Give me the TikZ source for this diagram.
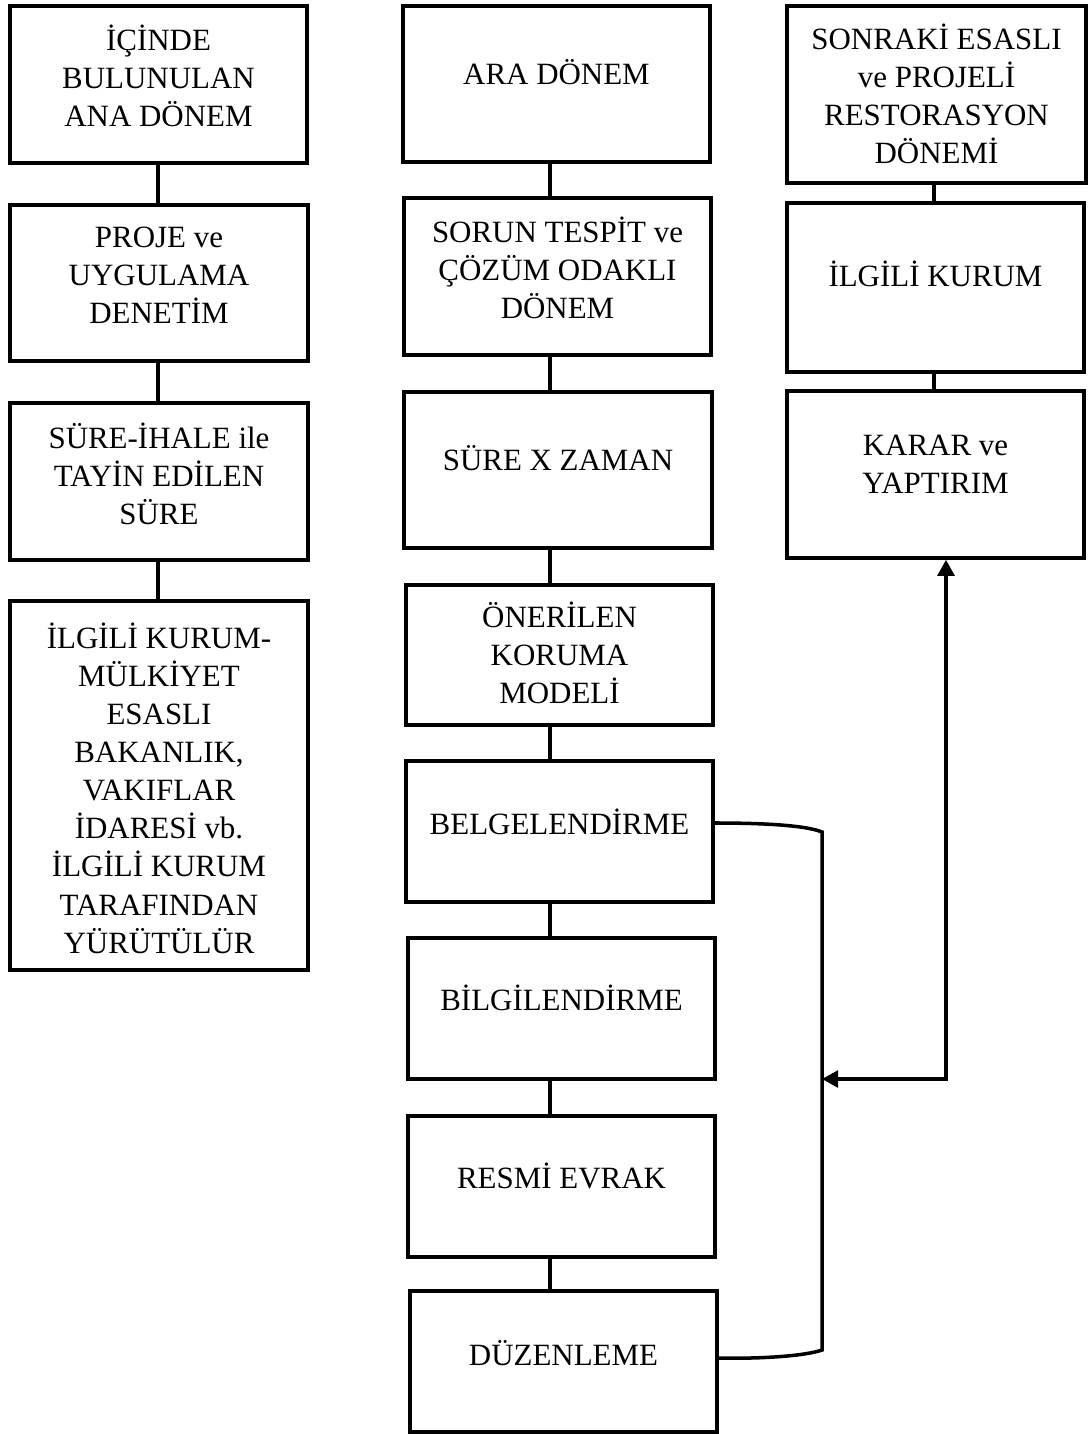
\documentclass[tikz,border=0pt]{standalone}
\usepackage{fontspec}
\setmainfont{Liberation Serif}
\usepackage{tikz}
\usetikzlibrary{arrows.meta}

\begin{document}
\begin{tikzpicture}[x=0.01cm,y=-0.01cm,line width=1pt,
  kutu/.style={draw,inner sep=0pt},
  yazi/.style={align=center,inner sep=0pt,font=\fontsize{8.8}{10.85}\selectfont},
  ciftok/.style={{Triangle[length=4.6pt,width=4.8pt]}-{Triangle[length=4.6pt,width=4.8pt]}}]
 \useasboundingbox (0,0) rectangle (1088,1434);
 % kutular: ad/sol/ust/sag/alt/yazi y/yazi
 \foreach \ad/\xa/\ya/\xb/\yb/\ty/\metin in {
   l1/10/6/307/163/76/{İÇİNDE\\BULUNULAN\\ANA DÖNEM},
   l2/10/205/308/361/275/{PROJE ve\\UYGULAMA\\DENETİM},
   l3/10/403/308/560/474/{SÜRE-İHALE ile\\TAYİN EDİLEN\\SÜRE},
   l4/10/601/308/970/788/{İLGİLİ KURUM-\\MÜLKİYET\\ESASLI\\BAKANLIK,\\VAKIFLAR\\İDARESİ vb.\\İLGİLİ KURUM\\TARAFINDAN\\YÜRÜTÜLÜR},
   m1/403/6/710/162/72/{ARA DÖNEM},
   m2/404/198/711/355/268/{SORUN TESPİT ve\\ÇÖZÜM ODAKLI\\DÖNEM},
   m3/404/392/712/548/458/{SÜRE X ZAMAN},
   m4/406/585/713/725/653/{ÖNERİLEN\\KORUMA\\MODELİ},
   m5/406/761/713/902/822/{BELGELENDİRME},
   m6/408/938/715/1079/998/{BİLGİLENDİRME},
   m7/408/1116/715/1257/1176/{RESMİ EVRAK},
   m8/410/1291/717/1432/1353/{DÜZENLEME},
   r1/787/6/1086/183/94/{SONRAKİ ESASLI\\ve PROJELİ\\RESTORASYON\\DÖNEMİ},
   r2/787/203/1084/372/274/{İLGİLİ KURUM},
   r3/787/391/1084/558/464/{KARAR ve\\YAPTIRIM}}
  {\node[kutu,minimum width={(\xb-\xa)*0.01cm},minimum height={(\yb-\ya)*0.01cm}]
     (\ad) at ({(\xa+\xb)/2},{(\ya+\yb)/2}) {};
   \node[yazi] (\ad-y) at ({(\xa+\xb)/2},\ty) {\metin};}
 % dikey baglantilar
 \coordinate (sx) at (158,0);
 \coordinate (ox) at (550,0);
 \coordinate (gx) at (934,0);
 \foreach \a/\b/\c in {l1/l2/sx,l2/l3/sx,l3/l4/sx,
   m1/m2/ox,m2/m3/ox,m3/m4/ox,m4/m5/ox,m5/m6/ox,m6/m7/ox,m7/m8/ox,
   r1/r2/gx,r2/r3/gx}
  \draw (\a.south -| \c) -- (\b.north -| \c);
 % kosebent ve ok
 \draw ([yshift=0.085cm]m5.east) .. controls (760,823) and (805,825) .. (822,832)
   -- (822,1350) .. controls (805,1356) and (760,1359) .. ([yshift=0.035cm]m8.east);
 \coordinate (kanca) at (822,1079);
 \coordinate (kose) at (946,1079);
 \draw[ciftok] (kanca) -- (kose) -- (kose |- r3.south);
\end{tikzpicture}
\end{document}
